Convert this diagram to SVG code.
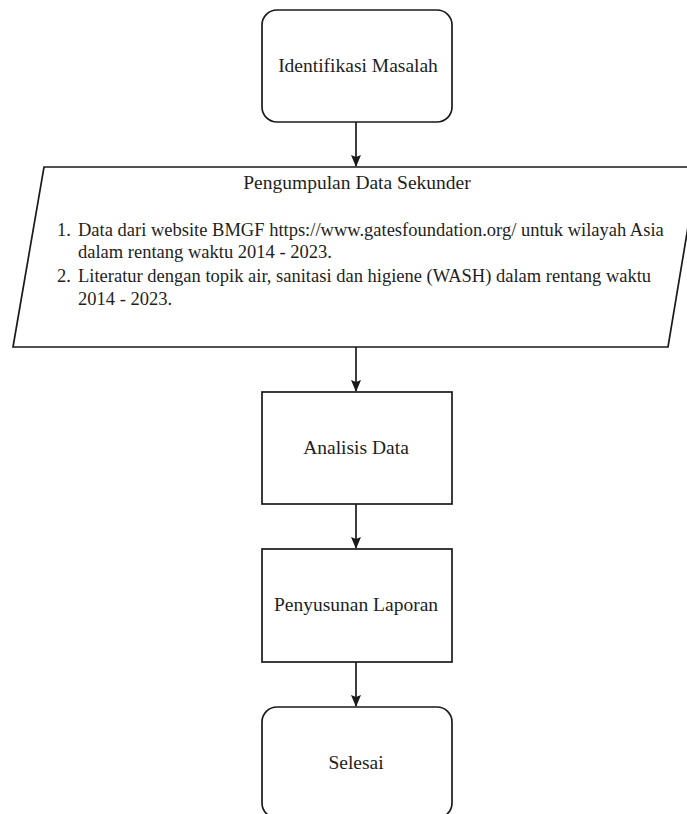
<svg xmlns="http://www.w3.org/2000/svg" width="687" height="814" viewBox="0 0 687 814">
<defs>
<style>
.shape{fill:#ffffff;stroke:#1a1a1a;stroke-width:1.7}
.lbl{font-family:"Liberation Serif","Times New Roman",serif;font-size:19.5px;fill:#1e1e1e}
.body{font-size:18.5px}
.mid{text-anchor:middle}
.edge{stroke:#1a1a1a;stroke-width:1.7;fill:none}
</style>
<marker id="arrow" viewBox="0 0 12 10" refX="11" refY="5" markerWidth="12" markerHeight="10" markerUnits="userSpaceOnUse" orient="auto">
<path d="M0,0 L12,5 L0,10 L2,5 Z" fill="#1a1a1a"/>
</marker>
</defs>
<rect width="687" height="814" fill="#ffffff"/>
<g id="connectors">
<line class="edge" x1="356" y1="122" x2="356" y2="166" marker-end="url(#arrow)"/>
<line class="edge" x1="356" y1="347" x2="356" y2="391" marker-end="url(#arrow)"/>
<line class="edge" x1="356" y1="504" x2="356" y2="548" marker-end="url(#arrow)"/>
<line class="edge" x1="356" y1="662" x2="356" y2="706" marker-end="url(#arrow)"/>
</g>
<g id="identifikasi">
<rect class="shape" x="262" y="10" width="190" height="112" rx="15" ry="15"/>
<text class="lbl mid" x="358" y="72">Identifikasi Masalah</text>
</g>
<g id="pengumpulan">
<polygon class="shape" points="44,167 698,167 668,347 13,347"/>
<text class="lbl mid" x="357" y="189">Pengumpulan Data Sekunder</text>
<text class="lbl body" x="57" y="236">1.</text>
<text class="lbl body" x="78" y="236">Data dari website BMGF https://www.gatesfoundation.org/ untuk wilayah Asia</text>
<text class="lbl body" x="78" y="258">dalam rentang waktu 2014 - 2023.</text>
<text class="lbl body" x="57" y="282">2.</text>
<text class="lbl body" x="78" y="282">Literatur dengan topik air, sanitasi dan higiene (WASH) dalam rentang waktu</text>
<text class="lbl body" x="78" y="305">2014 - 2023.</text>
</g>
<g id="analisis">
<rect class="shape" x="262" y="392" width="190" height="112"/>
<text class="lbl mid" x="356" y="454">Analisis Data</text>
</g>
<g id="penyusunan">
<rect class="shape" x="262" y="549" width="190" height="113"/>
<text class="lbl mid" x="356" y="611">Penyusunan Laporan</text>
</g>
<g id="selesai">
<rect class="shape" x="262" y="707" width="190" height="111" rx="15" ry="15"/>
<text class="lbl mid" x="356" y="769">Selesai</text>
</g>
</svg>
